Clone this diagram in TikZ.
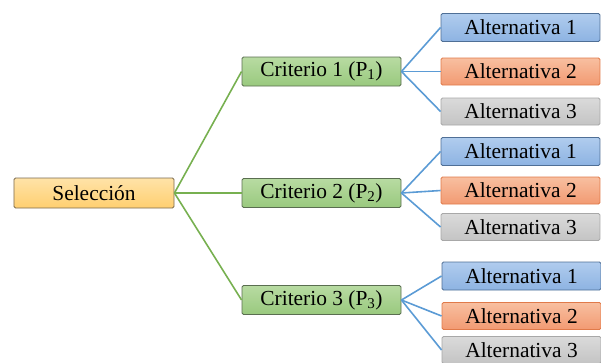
\documentclass[tikz,border=0pt]{standalone}
\usepackage{fontspec}
\setmainfont{Liberation Serif}
\usetikzlibrary{shadings}
\definecolor{selT}{HTML}{FFE3A8}\definecolor{selB}{HTML}{FFCF70}\definecolor{selD}{HTML}{7A6A50}
\definecolor{criT}{HTML}{B8DBA2}\definecolor{criB}{HTML}{99C97E}\definecolor{criD}{HTML}{5A6E50}
\definecolor{a1T}{HTML}{B0CCEE}\definecolor{a1B}{HTML}{8DB3E2}\definecolor{a1D}{HTML}{4F6F96}
\definecolor{a2T}{HTML}{F8BFA0}\definecolor{a2B}{HTML}{F29A72}\definecolor{a2D}{HTML}{E07A4A}
\definecolor{a3T}{HTML}{DADADA}\definecolor{a3B}{HTML}{C4C4C4}\definecolor{a3D}{HTML}{A8A8A8}
\definecolor{gline}{HTML}{77B050}\definecolor{bline}{HTML}{5B9BD5}
\tikzset{
  box/.style={rounded corners=1.5pt, line width=0.9pt, inner sep=0pt, font=\fontsize{21.5}{23}\selectfont, text=black, anchor=center},
  selbox/.style={box, draw=selD, top color=selT, bottom color=selB, minimum width=160bp, minimum height=30bp},
  cribox/.style={box, draw=criD, top color=criT, bottom color=criB, minimum width=159bp, minimum height=29bp},
  altA/.style={box, draw=a1D, top color=a1T, bottom color=a1B, minimum width=159bp, minimum height=28bp},
  altB/.style={box, draw=a2D, top color=a2T, bottom color=a2B, minimum width=159bp, minimum height=27bp},
  altC/.style={box, draw=a3D, top color=a3T, bottom color=a3B, minimum width=159bp, minimum height=27bp},
  gconn/.style={draw=gline, line width=1.6pt},
  bconn/.style={draw=bline, line width=1.6pt},
}
\begin{document}
\begin{tikzpicture}[x=1bp,y=-1bp]
\useasboundingbox (0,0) rectangle (601,362);
\node[selbox] (sel) at (94,193) {Selección};
\node[cribox] (c1) at (321.5,71.5) {Criterio 1 (P\textsubscript{1})};
\node[cribox] (c2) at (321.5,193) {Criterio 2 (P\textsubscript{2})};
\node[cribox] (c3) at (321.5,300) {Criterio 3 (P\textsubscript{3})};
\node[altA] (a11) at (520.5,27.5) {Alternativa 1};
\node[altB] (a12) at (520.5,71.5) {Alternativa 2};
\node[altC] (a13) at (520.5,111.5) {Alternativa 3};
\node[altA] (a21) at (520.5,151.5) {Alternativa 1};
\node[altB] (a22) at (520.5,190.5) {Alternativa 2};
\node[altC] (a23) at (520.5,227) {Alternativa 3};
\node[altA] (a31) at (521.5,276) {Alternativa 1};
\node[altB] (a32) at (521.5,316) {Alternativa 2};
\node[altC] (a33) at (521.5,350) {Alternativa 3};
\foreach \c in {c1,c2,c3} \draw[gconn] (sel.east) -- (\c.west);
\foreach \c in {1,2,3}{
  \foreach \a in {1,2,3} \draw[bconn] (c\c.east) -- (a\c\a.west);
}
\end{tikzpicture}
\end{document}
